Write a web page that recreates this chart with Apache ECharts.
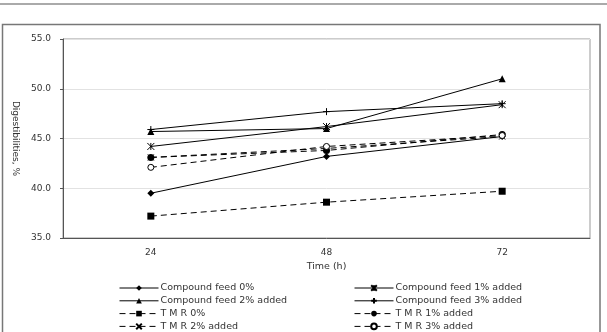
<!DOCTYPE html>
<html>
<head>
<meta charset="utf-8">
<script src="https://cdn.jsdelivr.net/npm/echarts@6/dist/echarts.min.js"></script>
<style>
  html, body { margin: 0; padding: 0; background: #fff; }
  #chart { width: 607px; height: 332px; }
</style>
</head>
<body>
<div id="chart"></div>
<script>
// categories (hours of incubation)
const hours = ['24', '48', '72']

// digestibility values (%)
const cf0 = [39.5, 43.2, 45.2]
const cf1 = [44.2, 46.2, 48.4]
const cf2 = [45.7, 46.0, 51.0]
const cf3 = [45.9, 47.7, 48.5]
const tmr0 = [37.2, 38.6, 39.7]
const tmr1 = [43.1, 43.8, 45.4]
const tmr2 = [43.1, 44.0, 45.2]
const tmr3 = [42.1, 44.2, 45.3]

const yTicks = { min: 35, max: 55, interval: 5 }

// legend columns
const legendLeft = ['Compound feed 0%', 'Compound feed 2% added', 'T M R 0%', 'T M R 2% added']
const legendRight = ['Compound feed 1% added', 'Compound feed 3% added', 'T M R 1% added', 'T M R 3% added']

const FONT = 'DejaVu Sans'
const TXT = '#333'

// stroked marker paths (bbox must not be degenerate)
const starPath = 'path://M0,0L10,10M10,0L0,10M5,0L5,10'
const plusPath = 'path://M5,0L5,10M0,5L10,5'
const xPath = 'path://M0,0L10,10M10,0L0,10'

function mk(name, data, opts) {
  const dashed = !!opts.dashed
  return {
    name,
    type: 'line',
    data,
    symbol: opts.symbol,
    symbolSize: opts.size || 6,
    showSymbol: true,
    lineStyle: { color: '#000', width: 1, type: dashed ? [6, 4] : 'solid' },
    itemStyle: {
      color: opts.hollow ? '#fff' : '#000',
      borderColor: '#000',
      borderWidth: opts.stroke ? 1 : (opts.hollow ? 1 : 0)
    },
    emphasis: { disabled: true },
    animation: false
  }
}

const series = [
  mk('Compound feed 0%', cf0, { symbol: 'diamond', size: 7 }),
  mk('Compound feed 1% added', cf1, { symbol: starPath, size: 7, stroke: true }),
  mk('Compound feed 2% added', cf2, { symbol: 'triangle', size: 7 }),
  mk('Compound feed 3% added', cf3, { symbol: plusPath, size: 7, stroke: true }),
  mk('T M R 0%', tmr0, { symbol: 'rect', size: 7, dashed: true }),
  mk('T M R 1% added', tmr1, { symbol: 'circle', size: 7, dashed: true }),
  mk('T M R 2% added', tmr2, { symbol: xPath, size: 6, dashed: true, stroke: true }),
  mk('T M R 3% added', tmr3, { symbol: 'circle', size: 6, dashed: true, hollow: true })
]

function legendCol(left, names) {
  return {
    orient: 'vertical',
    left,
    top: 283,
    height: 56,
    padding: 0,
    itemWidth: 39,
    itemHeight: 7,
    itemGap: 2.8,
    selectedMode: false,
    lineStyle: { width: 1 },
    data: names,
    textStyle: { fontFamily: FONT, fontSize: 9.5, color: TXT, padding: [0, 0, 0, -3] }
  }
}

const chart = echarts.init(document.getElementById('chart'), null, { renderer: 'canvas' })

chart.setOption({
  backgroundColor: '#fff',
  animation: false,
  graphic: [
    { type: 'line', shape: { x1: 0, y1: 4, x2: 607, y2: 4 }, style: { stroke: '#aaa', lineWidth: 2 } },
    { type: 'rect', shape: { x: 2.5, y: 24.5, width: 597.5, height: 320 }, style: { fill: 'none', stroke: '#777', lineWidth: 1.5 } }
  ],
  grid: {
    left: 63, right: 17, top: 39, bottom: 94,
    show: true, borderColor: '#999', borderWidth: 1
  },
  legend: [legendCol(119, legendLeft), legendCol(354, legendRight)],
  xAxis: {
    type: 'category',
    data: hours,
    boundaryGap: true,
    name: 'Time (h)',
    nameLocation: 'middle',
    nameGap: 24,
    nameTextStyle: { fontFamily: FONT, fontSize: 9.5, color: TXT },
    axisLine: { lineStyle: { color: '#555', width: 1 } },
    axisTick: { inside: true, length: 3, lineStyle: { color: '#555' } },
    axisLabel: { fontFamily: FONT, fontSize: 9, color: TXT, margin: 10 },
    splitLine: { show: false }
  },
  yAxis: {
    type: 'value',
    min: yTicks.min,
    max: yTicks.max,
    interval: yTicks.interval,
    name: 'Digestibilities, %',
    nameLocation: 'middle',
    nameRotate: -90,
    nameGap: 37,
    nameTextStyle: { fontFamily: FONT, fontSize: 9, color: TXT },
    axisLine: { show: true, lineStyle: { color: '#555', width: 1 } },
    axisTick: { show: true, length: 3, lineStyle: { color: '#555' } },
    axisLabel: { fontFamily: FONT, fontSize: 9, color: TXT, margin: 12, formatter: v => v.toFixed(1) },
    splitLine: { show: true, lineStyle: { color: '#e2e2e2', width: 1 } }
  },
  series
})
</script>
</body>
</html>
